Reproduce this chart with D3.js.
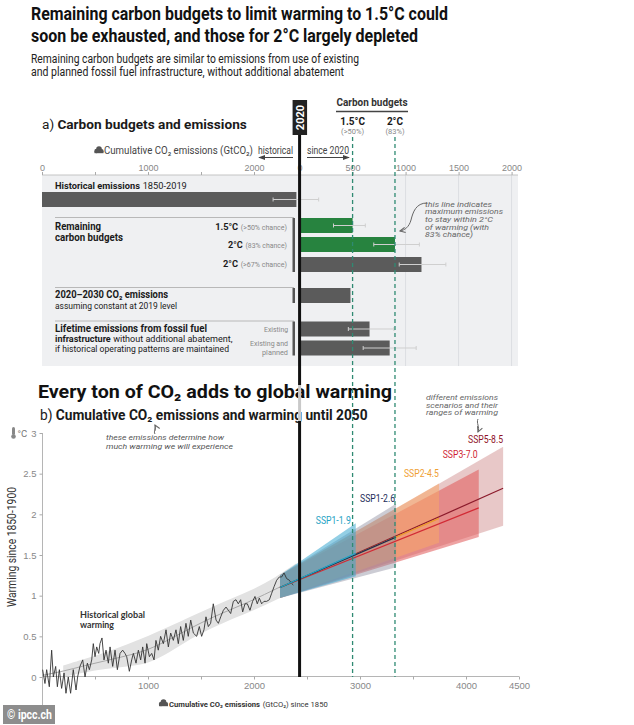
<!DOCTYPE html>
<html>
<head>
<meta charset="utf-8">
<script src="https://cdn.jsdelivr.net/npm/d3@7"></script>
<style>
  body { margin: 0; background: #fff; }
  svg { display: block; font-family: "Liberation Sans Narrow", "Roboto", sans-serif; }
</style>
</head>
<body>
<div id="graf"></div>
<script>
// Panel a: presupuestos y emisiones (GtCO2)
const start2020 = 2430
const histTotal = 2400
const histRange = [2180, 2610]
const budgetKeys = ['b15', 'b83', 'b67', 'e2030', 'exist', 'planned']
const budgetValues = [500, 900, 1150, 480, 660, 850]
const budgetLow = [320, 700, 940, null, 460, 600]
const budgetHigh = [620, 1130, 1380, null, 890, 1100]
const greenKeys = ['b15', 'b83']
const histTicks = [0, 500, 1000, 1500, 2000]
const sinceTicks = [0, 500, 1000, 1500, 2000]
const budgetLines = [500, 900]

// Panel b: calentamiento historico (GtCO2 acumulado, °C)
const histCum = [6, 28, 44, 69, 91, 107, 129, 145, 164, 185, 208, 226, 248, 270, 295, 321, 336, 358, 384, 406,
  428, 447, 469, 484, 500, 516, 535, 547, 566, 585, 604, 626, 642, 667, 689, 711, 736, 761, 783, 799,
  824, 846, 862, 887, 909, 931, 950, 972, 988, 1013, 1035, 1057, 1075, 1097, 1119, 1145, 1170, 1192, 1214, 1239,
  1264, 1286, 1308, 1333, 1358, 1380, 1403, 1428, 1459, 1484, 1506, 1528, 1547, 1569, 1591, 1616, 1642, 1664, 1686, 1711,
  1736, 1758, 1780, 1805, 1830, 1852, 1874, 1893, 1915, 1937, 1962, 1987, 2009, 2031, 2050, 2072, 2094, 2119, 2145, 2167,
  2189, 2214, 2239, 2261, 2283, 2308, 2333, 2355, 2371]
const histTemp = [0.09, -0.08, 0.09, -0.12, 0.33, 0.00, 0.13, -0.12, 0.09, -0.14, 0.05, -0.20, 0.00, -0.20, 0.09, -0.16, 0.00, 0.13, 0.21, 0.00,
  0.17, 0.09, 0.21, 0.41, 0.25, 0.37, 0.29, 0.41, 0.48, 0.21, 0.33, 0.17, 0.37, 0.13, 0.33, 0.09, 0.29, 0.33, 0.29, 0.25,
  0.07, 0.21, 0.29, 0.17, 0.33, 0.21, 0.37, 0.17, 0.41, 0.25, 0.29, 0.21, 0.45, 0.33, 0.50, 0.41, 0.58, 0.37, 0.54, 0.45,
  0.58, 0.41, 0.62, 0.45, 0.66, 0.50, 0.70, 0.54, 0.50, 0.62, 0.50, 0.58, 0.74, 0.62, 0.66, 0.90, 0.70, 0.66, 0.74, 0.82,
  0.86, 0.82, 0.78, 0.93, 0.95, 0.90, 0.95, 0.80, 0.90, 0.90, 0.82, 0.93, 0.99, 0.90, 0.97, 0.90, 0.93, 0.93, 0.95, 1.03,
  1.11, 1.19, 1.23, 1.23, 1.28, 1.21, 1.19, 1.15, 1.13]
const bandCum = [200, 400, 600, 800, 1000, 1200, 1400, 1600, 1800, 2000, 2200, 2400]
const bandMid = [0.07, 0.14, 0.20, 0.26, 0.33, 0.46, 0.60, 0.73, 0.84, 0.95, 1.08, 1.20]
const bandLo = [0.00, 0.06, 0.10, 0.13, 0.16, 0.30, 0.47, 0.60, 0.72, 0.82, 0.95, 1.05]
const bandHi = [0.14, 0.22, 0.30, 0.40, 0.50, 0.62, 0.74, 0.86, 0.97, 1.08, 1.22, 1.40]

// Escenarios SSP
const sspNames = ['SSP1-1.9', 'SSP1-2.6', 'SSP2-4.5', 'SSP3-7.0', 'SSP5-8.5']
const sspStartCum = 2245
const sspStartMid = 1.1
const sspStartLo = 0.97
const sspStartHi = 1.25
const sspEndCum = [2960, 3340, 3745, 4120, 4350]
const sspEndMid = [1.52, 1.72, 1.95, 2.08, 2.32]
const sspEndLo = [1.24, 1.35, 1.65, 1.72, 1.86]
const sspEndHi = [1.89, 2.13, 2.38, 2.55, 2.83]

const tempTicks = [0, 0.5, 1, 1.5, 2, 2.5, 3]
const cumTicks = [500, 1000, 1500, 2000, 2500, 3000, 3500, 4000, 4500]
const cumLabels = [1000, 2000, 3000, 4000, 4500]

// Estilos
const sspFill = ['#3aa8d0', '#8f8f9f', '#f8a868', '#e05858', '#d9a3a3']
const sspFillOpacity = [0.55, 0.45, 0.55, 0.55, 0.6]
const sspLine = ['#1fa7c9', '#1d2b57', '#eb9a2a', '#d22a35', '#8b1a2b']
const sspText = ['#1fa3c4', '#1d2b57', '#efa032', '#cf1f35', '#8f1328']
const dashColor = '#2f8a72'

const svg = d3.select('#graf').append('svg').attr('width', 634).attr('height', 725)

// Flechas
const defs = svg.append('defs')
const marker = (id, color, open) => {
  defs.append('marker')
    .attr('id', id).attr('viewBox', '0 0 8 8').attr('refX', 7).attr('refY', 4)
    .attr('markerWidth', 7).attr('markerHeight', 7).attr('orient', 'auto')
    .attr('markerUnits', 'userSpaceOnUse')
    .append('path')
    .attr('d', open ? 'M1,1 L7,4 L1,7' : 'M0,1 L8,4 L0,7 Z')
    .attr('fill', open ? 'none' : color)
    .attr('stroke', open ? color : 'none')
    .attr('stroke-width', 1.2)
}
marker('solid', '#444', false)
marker('open', '#666', true)

// Texto con partes (negrita / color), cada parte es un <text> propio.
// Una sola parte: se ajusta con textLength. Varias: se escala el tamaño de letra.
const T = (parent, x, y, parts, o = {}) => {
  const g = parent.append('g')
  if (o.rotate) g.attr('transform', `rotate(${o.rotate},${x},${y})`)
  const list = [].concat(parts).map(p => typeof p === 'string' ? { t: p } : p)
  const base = o.size || 11
  const els = list.map(s => {
    const t = g.append('text')
      .attr('y', y)
      .attr('font-size', s.size || base)
      .attr('fill', s.c || o.fill || '#1a1a1a')
      .attr('font-weight', (s.b !== undefined ? s.b : o.bold) ? 700 : 400)
      .text(s.t.trim())
    if (o.italic) t.attr('font-style', 'italic')
    if (o.family) t.attr('font-family', o.family)
    return t
  })
  const gap = base * 0.25
  let lens = els.map(e => e.node().getComputedTextLength())
  if (o.w && els.length > 1) {
    const k = (o.w - gap * (els.length - 1)) / d3.sum(lens)
    els.forEach((e, i) => e.attr('font-size', (list[i].size || base) * k))
    lens = els.map(e => e.node().getComputedTextLength())
  }
  if (o.w && els.length === 1) {
    els[0].attr('textLength', o.w).attr('lengthAdjust', 'spacingAndGlyphs')
    lens = [o.w]
  }
  const width = d3.sum(lens) + gap * (els.length - 1)
  let cx = o.anchor === 'end' ? x - width : o.anchor === 'middle' ? x - width / 2 : x
  els.forEach((e, i) => {
    e.attr('x', cx)
    cx += lens[i] + gap
  })
  return g
}

const cloud = (cx, cy) => {
  const g = svg.append('g').attr('fill', '#555')
  g.append('circle').attr('cx', cx - 2.5).attr('cy', cy + 1).attr('r', 2.2)
  g.append('circle').attr('cx', cx).attr('cy', cy - 1).attr('r', 2.8)
  g.append('circle').attr('cx', cx + 2.6).attr('cy', cy + 1).attr('r', 2)
  g.append('rect').attr('x', cx - 4.5).attr('y', cy + 1).attr('width', 9).attr('height', 2.2)
}

// Escala comun de emisiones acumuladas
const x = d3.scaleLinear().domain([0, 4500]).range([42, 519])

// Titulos
T(svg, 31, 20, 'Remaining carbon budgets to limit warming to 1.5°C could', { size: 19, bold: true, w: 417, fill: '#111' })
T(svg, 31, 42, 'soon be exhausted, and those for 2°C largely depleted', { size: 19, bold: true, w: 387, fill: '#111' })
T(svg, 31, 63, 'Remaining carbon budgets are similar to emissions from use of existing', { size: 12, w: 328, fill: '#222' })
T(svg, 31, 76, 'and planned fossil fuel infrastructure, without additional abatement', { size: 12, w: 313, fill: '#222' })

// ---------- Panel a ----------
T(svg, 42, 129, [{ t: 'a)', b: false }, { t: 'Carbon budgets and emissions', b: true }], { size: 13, w: 205 })

svg.append('rect')
  .attr('x', 42).attr('y', 175).attr('width', 476).attr('height', 191)
  .attr('fill', '#eff0f2')

// Lineas de cuadricula
svg.append('g').selectAll('line')
  .data(sinceTicks.filter(d => d >= 1000))
  .join('line')
  .attr('x1', d => x(start2020 + d)).attr('x2', d => x(start2020 + d))
  .attr('y1', 175).attr('y2', 366)
  .attr('stroke', '#dcdee2')

// Eje superior
const axA = svg.append('g').attr('transform', 'translate(0,175)')
axA.append('line').attr('x1', 42).attr('x2', 518).attr('stroke', '#c4c4c4')
axA.append('g')
  .call(d3.axisTop(x).tickValues(histTicks).tickSize(3).tickPadding(1)
    .tickFormat(d => d % 1000 === 0 ? d : ''))
axA.append('g')
  .call(d3.axisTop(x).tickValues(sinceTicks.map(d => start2020 + d)).tickSize(3).tickPadding(1)
    .tickFormat(d => d - start2020))
axA.selectAll('.domain').remove()
axA.selectAll('.tick line').attr('stroke', '#aaa')
axA.selectAll('.tick text').attr('fill', '#888').attr('font-size', 9).attr('font-family', 'inherit')

cloud(99, 150)
T(svg, 104, 154, 'Cumulative CO₂ emissions (GtCO₂)', { size: 10, fill: '#444', w: 149 })
T(svg, 275.5, 154, 'historical', { size: 10, anchor: 'middle', fill: '#444', w: 35 })
svg.append('line').attr('x1', 293).attr('x2', 259).attr('y1', 157.5).attr('y2', 157.5)
  .attr('stroke', '#444').attr('marker-end', 'url(#solid)')
T(svg, 328, 154, 'since 2020', { size: 10, anchor: 'middle', fill: '#444', w: 42 })
svg.append('line').attr('x1', 307).attr('x2', 349).attr('y1', 157.5).attr('y2', 157.5)
  .attr('stroke', '#444').attr('marker-end', 'url(#solid)')

// Cabecera de presupuestos
T(svg, 372, 106, 'Carbon budgets', { size: 10.5, bold: true, anchor: 'middle', fill: '#333', w: 71 })
svg.append('line').attr('x1', 336).attr('x2', 408).attr('y1', 111.5).attr('y2', 111.5)
  .attr('stroke', '#444').attr('stroke-width', 1.5)
const budgetHead = [['1.5°C', '(>50%)'], ['2°C', '(83%)']]
budgetLines.forEach((b, i) => {
  T(svg, x(start2020 + b), 124.5, budgetHead[i][0], { size: 10, bold: true, anchor: 'middle' })
  T(svg, x(start2020 + b), 133.5, budgetHead[i][1], { size: 7.5, anchor: 'middle', fill: '#888' })
})

// Filas
const rowKeys = ['hist'].concat(budgetKeys)
const rowY = d3.scaleOrdinal().domain(rowKeys).range([199.5, 225.5, 244.5, 264.5, 295.5, 329, 348])
const barH = 15

// Separadores y corchetes
const groups = [['b15', 'b67'], ['e2030', 'e2030'], ['exist', 'planned']]
groups.forEach(([a, b]) => {
  svg.append('line')
    .attr('x1', 55).attr('x2', 294).attr('y1', rowY(a) - barH / 2 - 0.5).attr('y2', rowY(a) - barH / 2 - 0.5)
    .attr('stroke', '#b8b8b8')
  svg.append('rect')
    .attr('x', 292.5).attr('width', 2.5)
    .attr('y', rowY(a) - barH / 2).attr('height', rowY(b) - rowY(a) + barH)
    .attr('fill', '#555')
})

// Barra historica
svg.append('rect')
  .attr('x', x(0)).attr('y', rowY('hist') - barH / 2)
  .attr('width', x(histTotal) - x(0)).attr('height', barH)
  .attr('fill', '#5b5b5b')

// Barras desde 2020
svg.append('g').selectAll('rect')
  .data(budgetKeys)
  .join('rect')
  .attr('x', x(start2020))
  .attr('y', d => rowY(d) - barH / 2)
  .attr('width', (d, i) => x(start2020 + budgetValues[i]) - x(start2020))
  .attr('height', barH)
  .attr('fill', d => greenKeys.includes(d) ? '#27833f' : '#5b5b5b')

// Barras de error
const errs = [{ k: 'hist', lo: histRange[0], hi: histRange[1] }]
  .concat(budgetKeys.map((k, i) => ({ k, lo: budgetLow[i], hi: budgetHigh[i] }))
    .filter(d => d.lo !== null)
    .map(d => ({ k: d.k, lo: start2020 + d.lo, hi: start2020 + d.hi })))
const eg = svg.append('g').attr('stroke', '#cfcfcf').attr('stroke-width', 1)
errs.forEach(d => {
  eg.append('line').attr('x1', x(d.lo)).attr('x2', x(d.hi)).attr('y1', rowY(d.k)).attr('y2', rowY(d.k))
  eg.append('line').attr('x1', x(d.lo)).attr('x2', x(d.lo)).attr('y1', rowY(d.k) - 2).attr('y2', rowY(d.k) + 2)
  eg.append('line').attr('x1', x(d.hi)).attr('x2', x(d.hi)).attr('y1', rowY(d.k) - 2).attr('y2', rowY(d.k) + 2)
})

// Etiquetas de filas
T(svg, 55, 189, [{ t: 'Historical emissions', b: true }, '1850-2019'], { size: 11, w: 132 })
T(svg, 55, 229.5, 'Remaining', { size: 10, bold: true, w: 46 })
T(svg, 55, 241, 'carbon budgets', { size: 10, bold: true, w: 68 })
T(svg, 287, 230, [{ t: '1.5°C', b: true }, { t: '(>50% chance)', c: '#888', size: 8 }], { size: 10.5, anchor: 'end', w: 72 })
T(svg, 287, 248, [{ t: '2°C', b: true }, { t: '(83% chance)', c: '#888', size: 8 }], { size: 10.5, anchor: 'end', w: 59 })
T(svg, 287, 266.5, [{ t: '2°C', b: true }, { t: '(>67% chance)', c: '#888', size: 8 }], { size: 10.5, anchor: 'end', w: 64 })
T(svg, 55, 298, '2020–2030 CO₂ emissions', { size: 10.5, bold: true, w: 113 })
T(svg, 55, 308.5, 'assuming constant at 2019 level', { size: 9.5, w: 122 })
T(svg, 55, 331.5, 'Lifetime emissions from fossil fuel', { size: 10, bold: true, w: 152 })
T(svg, 55, 342, [{ t: 'infrastructure', b: true }, 'without additional abatement,'], { size: 9.5, w: 178 })
T(svg, 55, 352, 'if historical operating patterns are maintained', { size: 9.5, w: 174 })
T(svg, 288, 332, 'Existing', { size: 8, fill: '#888', anchor: 'end', w: 24 })
T(svg, 288, 346, 'Existing and', { size: 7.5, fill: '#888', anchor: 'end', w: 38 })
T(svg, 288, 355, 'planned', { size: 7.5, fill: '#888', anchor: 'end', w: 26 })

// Anotacion panel a
const noteA = ['this line indicates', 'maximum emissions', 'to stay within 2°C', 'of warming (with', '83% chance)']
const noteAw = [67, 78, 68, 64, 48]
noteA.forEach((s, i) => T(svg, 425, 206.7 + i * 7.6, s, { size: 7.5, italic: true, fill: '#666', w: noteAw[i] }))
svg.append('path')
  .attr('d', 'M427,203 C416,203 413,212 411,220 C409,227 405,230 400,231')
  .attr('fill', 'none').attr('stroke', '#666').attr('stroke-width', 1)
  .attr('marker-end', 'url(#open)')

// ---------- Panel b ----------
T(svg, 38, 398, 'Every ton of CO₂ adds to global warming', { size: 19, bold: true, w: 354, fill: '#111' })
T(svg, 40, 420, [{ t: 'b)', b: false }, { t: 'Cumulative CO₂ emissions and warming until 2050', b: true }], { size: 13, w: 328 })

const y = d3.scaleLinear().domain([0, 3]).range([677, 433])

// Eje y
svg.append('line').attr('x1', 42.5).attr('x2', 42.5).attr('y1', 433).attr('y2', 718).attr('stroke', '#b5b5b5')
const axY = svg.append('g').attr('transform', 'translate(42.5,0)')
  .call(d3.axisLeft(y).tickValues(tempTicks).tickSize(3).tickPadding(3).tickFormat(d3.format('~g')))
axY.select('.domain').remove()
axY.selectAll('.tick line').attr('stroke', '#aaa')
axY.selectAll('.tick text').attr('fill', '#888').attr('font-size', 9.5).attr('font-family', 'inherit')

// Termometro y unidad
svg.append('rect').attr('x', 12).attr('y', 427).attr('width', 3).attr('height', 8).attr('rx', 1.5).attr('fill', '#888')
svg.append('circle').attr('cx', 13.5).attr('cy', 436.5).attr('r', 2.3).attr('fill', '#888')
T(svg, 17.5, 437, '°C', { size: 9.5, fill: '#777' })
T(svg, 16, 547, 'Warming since 1850-1900', { size: 12.5, anchor: 'middle', rotate: -90, w: 120, fill: '#333' })

// Eje x
const axX = svg.append('g').attr('transform', 'translate(0,676.5)')
axX.append('line').attr('x1', 42).attr('x2', 519).attr('stroke', '#b5b5b5')
axX.append('g')
  .call(d3.axisBottom(x).tickValues(cumTicks).tickSize(3).tickPadding(3)
    .tickFormat(d => cumLabels.includes(d) ? d : ''))
axX.selectAll('.domain').remove()
axX.selectAll('.tick line').attr('stroke', '#aaa')
axX.selectAll('.tick text').attr('fill', '#888').attr('font-size', 9.5).attr('font-family', 'inherit')

cloud(163.5, 703)
T(svg, 169, 707, [{ t: 'Cumulative CO₂ emissions', b: true }, '(GtCO₂) since 1850'], { size: 11, w: 159, fill: '#333' })

// Banda historica
const band = bandCum.map((c, i) => ({ c, m: bandMid[i], lo: bandLo[i], hi: bandHi[i] }))
svg.append('path')
  .datum(band)
  .attr('d', d3.area().curve(d3.curveBasis).x(d => x(d.c)).y0(d => y(d.lo)).y1(d => y(d.hi)))
  .attr('fill', '#e2e2e2')
svg.append('path')
  .datum([{ c: 0, m: 0.02 }].concat(band))
  .attr('d', d3.line().curve(d3.curveBasis).x(d => x(d.c)).y(d => y(d.m)))
  .attr('fill', 'none').attr('stroke', '#a8a8a8').attr('stroke-width', 1)

// Abanicos SSP (del mayor al menor)
const ssp = sspNames.map((n, i) => ({
  n, i,
  poly: [[sspStartCum, sspStartLo], [sspEndCum[i], sspEndLo[i]], [sspEndCum[i], sspEndHi[i]], [sspStartCum, sspStartHi]],
  mid: [[sspStartCum, sspStartMid], [sspEndCum[i], sspEndMid[i]]]
})).reverse()

svg.append('g').selectAll('path')
  .data(ssp)
  .join('path')
  .attr('d', d => d3.line().x(p => x(p[0])).y(p => y(p[1]))(d.poly) + 'Z')
  .attr('fill', d => sspFill[d.i])
  .attr('fill-opacity', d => sspFillOpacity[d.i])

// Linea historica
svg.append('path')
  .datum(histCum.map((c, i) => [c, histTemp[i]]))
  .attr('d', d3.line().x(p => x(p[0])).y(p => y(p[1])))
  .attr('fill', 'none').attr('stroke', '#333').attr('stroke-width', 0.9)

// Lineas centrales SSP
svg.append('g').selectAll('path')
  .data(ssp)
  .join('path')
  .attr('d', d => d3.line().x(p => x(p[0])).y(p => y(p[1]))(d.mid))
  .attr('fill', 'none')
  .attr('stroke', d => sspLine[d.i])
  .attr('stroke-width', 1.2)

// Etiquetas SSP
const labelShift = [[-5, 1], [-1, -2], [0, -6], [-1, -12], [0, -4]]
sspNames.forEach((n, i) => {
  T(svg, x(sspEndCum[i]) + labelShift[i][0], y(sspEndHi[i]) + labelShift[i][1], n,
    { size: 10, anchor: 'end', fill: sspText[i], w: 35 })
})

T(svg, 80, 618, 'Historical global', { size: 9, bold: true, family: 'Lato', w: 65, fill: '#333' })
T(svg, 80, 628, 'warming', { size: 9, bold: true, family: 'Lato', w: 34, fill: '#333' })

// Anotaciones panel b
T(svg, 106, 440, 'these emissions determine how', { size: 7.5, italic: true, fill: '#555', w: 118 })
T(svg, 106, 448.5, 'much warming we will experience', { size: 7.5, italic: true, fill: '#555', w: 127 })
svg.append('path').attr('d', 'M155,434 C153,431 157,429 155,425')
  .attr('fill', 'none').attr('stroke', '#666').attr('marker-end', 'url(#open)')

const noteB = ['different emissions', 'scenarios and their', 'ranges of warming']
noteB.forEach((s, i) => T(svg, 426, 400 + i * 7.6, s, { size: 7.5, italic: true, fill: '#666', w: 72 }))
svg.append('path').attr('d', 'M478,419 C476,423 480,427 478,432')
  .attr('fill', 'none').attr('stroke', '#666').attr('marker-end', 'url(#open)')

// Linea 2020 y lineas de presupuesto
budgetLines.forEach(b => {
  svg.append('line')
    .attr('x1', x(start2020 + b)).attr('x2', x(start2020 + b))
    .attr('y1', 137).attr('y2', 677)
    .attr('stroke', dashColor).attr('stroke-width', 1.3).attr('stroke-dasharray', '4,3')
})
const x2020 = x(start2020)
svg.append('line').attr('x1', x2020).attr('x2', x2020).attr('y1', 135).attr('y2', 385)
  .attr('stroke', '#111').attr('stroke-width', 3)
svg.append('line').attr('x1', x2020).attr('x2', x2020).attr('y1', 385).attr('y2', 421)
  .attr('stroke', '#c9c9c9').attr('stroke-width', 3)
svg.append('line').attr('x1', x2020).attr('x2', x2020).attr('y1', 421).attr('y2', 677)
  .attr('stroke', '#111').attr('stroke-width', 3)
svg.append('rect').attr('x', x2020 - 7).attr('y', 100).attr('width', 14.5).attr('height', 35).attr('fill', '#222')
T(svg, x2020 + 4, 117.5, '2020', { size: 11, bold: true, fill: '#fff', anchor: 'middle', rotate: -90 })

// Marca de agua
svg.append('rect').attr('x', 3).attr('y', 705).attr('width', 52).attr('height', 19).attr('fill', '#8d8d8d')
T(svg, 7, 719, '© ipcc.ch', { size: 12, bold: true, fill: '#fff', w: 45 })
</script>
</body>
</html>
